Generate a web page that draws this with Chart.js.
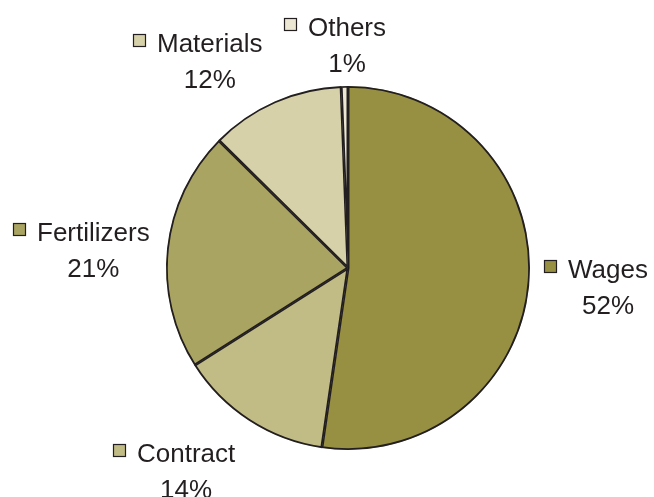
<!DOCTYPE html>
<html>
<head>
<meta charset="utf-8">
<script src="https://cdn.jsdelivr.net/npm/chart.js@4"></script>
<style>
html,body{margin:0;padding:0;background:#fff;}
#wrap{width:654px;height:497px;}
</style>
</head>
<body>
<div id="wrap"><canvas id="c" width="654" height="497"></canvas></div>
<script>
const categories = ["Wages", "Contract", "Fertilizers", "Materials", "Others"];
const shares = [52.3, 13.7, 21.4, 12.0, 0.6];
const percentLabels = ["52%", "14%", "21%", "12%", "1%"];

const sliceColors = ["#978f42", "#c1bb86", "#aaa462", "#d6d1a8", "#ebe7d2"];
const ink = "#231f20";
// label name text: left x and baseline y
const labelLayout = [
  {x: 568, y: 278},
  {x: 137, y: 462},
  {x: 37,  y: 241},
  {x: 157, y: 52},
  {x: 308, y: 36}
];

const labelPlugin = {
  id: 'outsideLabels',
  afterDraw(chart) {
    const ctx = chart.ctx;
    ctx.save();
    ctx.font = '26px "Liberation Sans", Arial, sans-serif';
    ctx.textBaseline = 'alphabetic';
    chart.data.labels.forEach((name, i) => {
      const p = labelLayout[i];
      ctx.textAlign = 'left';
      ctx.fillStyle = ink;
      ctx.fillText(name, p.x, p.y);
      const w = ctx.measureText(name).width;
      ctx.textAlign = 'center';
      ctx.fillText(percentLabels[i], p.x + w / 2, p.y + 36);
      const sx = p.x - 24, sy = p.y - 18;
      ctx.fillStyle = sliceColors[i];
      ctx.fillRect(sx, sy, 13, 13);
      ctx.strokeStyle = ink;
      ctx.lineWidth = 1.2;
      ctx.strokeRect(sx + 0.5, sy + 0.5, 12, 12);
    });
    ctx.restore();
  }
};

new Chart(document.getElementById('c'), {
  type: 'pie',
  data: {
    labels: categories,
    datasets: [{
      data: shares,
      backgroundColor: sliceColors,
      borderColor: ink,
      borderWidth: 1.5,
      borderAlign: 'inner',
      hoverOffset: 0,
      offset: 0
    }]
  },
  options: {
    responsive: false,
    animation: false,
    events: [],
    layout: { padding: { top: 86, bottom: 47, left: 165, right: 123 } },
    plugins: { legend: { display: false }, tooltip: { enabled: false } }
  },
  plugins: [labelPlugin]
});
</script>
</body>
</html>
